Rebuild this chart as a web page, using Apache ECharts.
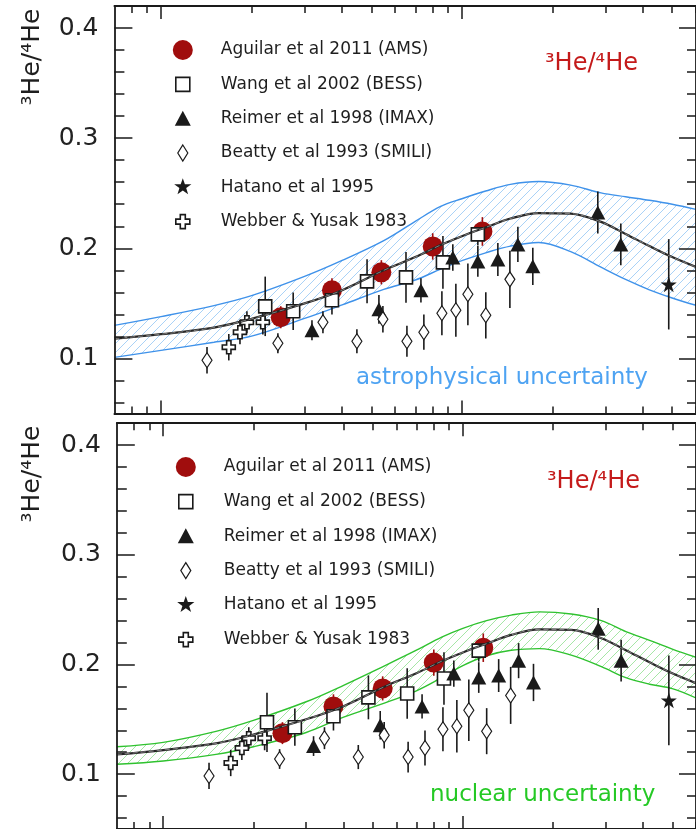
<!DOCTYPE html>
<html><head><meta charset="utf-8">
<script src="https://cdn.jsdelivr.net/npm/echarts@6/dist/echarts.min.js"></script>
<style>html,body{margin:0;padding:0;background:#fff}#c{width:696px;height:829px}</style>
</head><body><div id="c"></div>
<script>
// ---------------- data (kinetic energy per nucleon, GeV/n ; 3He/4He ratio) ----------------
const xTickMajor = [0.1, 1];
const xTickMinor = [0.08, 0.09, 0.2, 0.3, 0.4, 0.5, 0.6, 0.7, 0.8, 0.9, 2, 3, 4, 5, 6];
const yTickLabels = [0.1, 0.2, 0.3, 0.4];
const yTickMinor = [0.06, 0.08, 0.12, 0.14, 0.16, 0.18, 0.22, 0.24, 0.26, 0.28, 0.32, 0.34, 0.36, 0.38];

const seriesNames = ['Aguilar et al 2011 (AMS)', 'Wang et al 2002 (BESS)', 'Reimer et al 1998 (IMAX)',
  'Beatty et al 1993 (SMILI)', 'Hatano et al 1995', 'Webber & Yusak 1983'];

const amsE   = [0.25, 0.37, 0.54, 0.80, 1.17];
const amsR   = [0.1374, 0.1618, 0.1782, 0.2017, 0.2153];
const amsErr = [0.010, 0.011, 0.011, 0.012, 0.013];

const bessE   = [0.222, 0.275, 0.370, 0.484, 0.652, 0.865, 1.13];
const bessR   = [0.1473, 0.1428, 0.1528, 0.170, 0.1736, 0.1872, 0.2126];
const bessErr = [0.027, 0.017, 0.013, 0.020, 0.023, 0.024, 0.010];

const imaxE   = [0.3175, 0.530, 0.731, 0.933, 1.130, 1.317, 1.535, 1.721, 2.830, 3.375];
const imaxR   = [0.1256, 0.1446, 0.1618, 0.1917, 0.1881, 0.1899, 0.2035, 0.1836, 0.2325, 0.2035];
const imaxErr = [0.009, 0.013, 0.011, 0.012, 0.014, 0.015, 0.016, 0.017, 0.019, 0.019];

const smiliE   = [0.1422, 0.2446, 0.3453, 0.4478, 0.5464, 0.6567, 0.7476, 0.8582, 0.955, 1.047, 1.201, 1.444];
const smiliR   = [0.0984, 0.1138, 0.1328, 0.1156, 0.1355, 0.1156, 0.1238, 0.141, 0.1437, 0.1582, 0.1392, 0.1718];
const smiliErr = [0.012, 0.009, 0.010, 0.011, 0.012, 0.014, 0.016, 0.020, 0.024, 0.028, 0.021, 0.026];

const hatanoE   = [4.87];
const hatanoR   = [0.1673];
const hatanoErr = [0.041];

const webberE   = [0.168, 0.183, 0.193, 0.218];
const webberR   = [0.1102, 0.1238, 0.1328, 0.1328];
const webberErr = [0.012, 0.011, 0.010, 0.011];

// model curves
const modelE       = [0.07, 0.1, 0.15, 0.2, 0.3, 0.4, 0.55, 0.7, 0.85, 1.0, 1.2, 1.45, 1.8, 2.3, 2.9, 3.5, 4.2, 5.0, 6.0];
const modelCentral = [0.118, 0.122, 0.128, 0.136, 0.150, 0.162, 0.180, 0.192, 0.203, 0.211, 0.219, 0.227, 0.232, 0.2315, 0.224, 0.213, 0.202, 0.192, 0.183];
const astroUpper   = [0.130, 0.138, 0.148, 0.157, 0.1745, 0.189, 0.207, 0.2245, 0.238, 0.245, 0.252, 0.258, 0.2606, 0.2574, 0.2503, 0.2468, 0.2436, 0.240, 0.2353];
const astroLower   = [0.101, 0.1073, 0.1147, 0.1202, 0.1363, 0.1486, 0.1627, 0.1712, 0.1811, 0.1888, 0.1959, 0.202, 0.2053, 0.1969, 0.1828, 0.1717, 0.1623, 0.1549, 0.1482];
const nuclUpper    = [0.125, 0.129, 0.139, 0.149, 0.166, 0.181, 0.199, 0.213, 0.225, 0.233, 0.240, 0.245, 0.248, 0.246, 0.240, 0.230, 0.222, 0.214, 0.2065];
const nuclLower    = [0.109, 0.112, 0.118, 0.125, 0.138, 0.152, 0.165, 0.176, 0.188, 0.199, 0.208, 0.213, 0.2145, 0.2085, 0.198, 0.188, 0.182, 0.178, 0.1695];

// ---------------- styling ----------------
const FONT = 'DejaVu Sans';
const INK = '#1a1a1a';
const RED = '#a00d0d';
const STAR = 'path://M50,2L61.8,36.2L97.6,36.2L68.6,57.4L79.4,91.6L50,70.4L20.6,91.6L31.4,57.4L2.4,36.2L38.2,36.2Z';
const CROSS = 'path://M4,0H8V4H12V8H8V12H4V8H0V4H4Z';

const sets = [
  {E: amsE, R: amsR, err: amsErr, symbol: 'circle', size: 20, style: {color: RED, borderWidth: 0}, bar: RED,
   icon: 'path://M0,0M44,22M21,11A10,10,0,1,1,1,11A10,10,0,1,1,21,11Z'},
  {E: bessE, R: bessR, err: bessErr, symbol: 'rect', size: 13, style: {color: '#fff', borderColor: INK, borderWidth: 1.6}, bar: INK,
   icon: 'path://M0,0M44,22M4,4H18V18H4Z'},
  {E: imaxE, R: imaxR, err: imaxErr, symbol: 'triangle', size: [15, 14], style: {color: INK, borderWidth: 0}, bar: INK,
   icon: 'path://M0,0M44,22M11,3L19,18H3Z'},
  {E: smiliE, R: smiliR, err: smiliErr, symbol: 'diamond', size: [10, 15], style: {color: '#fff', borderColor: INK, borderWidth: 1.2}, bar: INK,
   icon: 'path://M0,0M44,22M11,3L16,11L11,19L6,11Z'},
  {E: hatanoE, R: hatanoR, err: hatanoErr, symbol: STAR, size: 16, style: {color: INK, borderWidth: 0}, bar: INK,
   icon: 'path://M0,0M44,22M11,2L13.1,8.1L19.6,8.1L14.4,11.9L16.3,18L11,14.3L5.7,18L7.6,11.9L2.4,8.1L8.9,8.1Z'},
  {E: webberE, R: webberR, err: webberErr, symbol: CROSS, size: 13, style: {color: '#fff', borderColor: INK, borderWidth: 1.6}, bar: INK,
   icon: 'path://M0,0M44,22M8.5,4H13.5V8.5H18V13.5H13.5V18H8.5V13.5H4V8.5H8.5Z'}
];

function hatch(color) {
  const s = 9;
  const c = document.createElement('canvas'); c.width = s; c.height = s;
  const g = c.getContext('2d');
  g.strokeStyle = color; g.lineWidth = 1;
  g.beginPath();
  g.moveTo(-1, s + 1); g.lineTo(s + 1, -1);
  g.moveTo(-1, 1); g.lineTo(1, -1);
  g.moveTo(s - 1, s + 1); g.lineTo(s + 1, s - 1);
  g.stroke();
  return c;
}

const panels = [
  {grid: {left: 114.4, top: 6, width: 581.8, height: 407.5}, upper: astroUpper, lower: astroLower,
   line: '#3f92ea', hatch: hatch('#a9d2f7'), note: 'astrophysical uncertainty', noteColor: '#4ea3f2',
   noteX: 356, noteY: 378, titleX: 545, titleY: 64, labelY: 57, legendLeft: 171, legendTop: 39, legendGap: 11.6},
  {grid: {left: 116.8, top: 423.2, width: 582.8, height: 409}, upper: nuclUpper, lower: nuclLower,
   line: '#2fc22f', hatch: hatch('#a6e6a6'), note: 'nuclear uncertainty', noteColor: '#25c925',
   noteX: 430, noteY: 795, titleX: 547, titleY: 482, labelY: 474, legendLeft: 174, legendTop: 456, legendGap: 11.8}
];

const xAxis = [], yAxis = [], series = [], legend = [], graphic = [];
const axisLineStyle = {color: INK, width: 1.8};
panels.forEach((p, gi) => {
  const xs = [
    {position: 'bottom', line: true, ticks: xTickMajor, len: 13},
    {position: 'bottom', line: false, ticks: xTickMinor, len: 7},
    {position: 'top', line: true, ticks: xTickMajor, len: 13},
    {position: 'top', line: false, ticks: xTickMinor, len: 7}
  ];
  xs.forEach(a => xAxis.push({
    type: 'log', logBase: 10, min: 0.07, max: 6, gridIndex: gi, position: a.position, z: 10,
    axisLine: {show: a.line, onZero: false, lineStyle: axisLineStyle},
    axisTick: {show: true, inside: true, length: a.len, customValues: a.ticks, lineStyle: {color: INK, width: 1.5}},
    axisLabel: {show: false}, splitLine: {show: false}, minorTick: {show: false}
  }));
  const ys = [
    {position: 'left', line: true, ticks: yTickLabels, len: 18, label: true},
    {position: 'left', line: false, ticks: yTickMinor, len: 10, label: false},
    {position: 'right', line: true, ticks: yTickLabels, len: 17, label: false},
    {position: 'right', line: false, ticks: yTickMinor, len: 9, label: false}
  ];
  ys.forEach(a => yAxis.push({
    type: 'value', min: 0.05, max: 0.42, gridIndex: gi, position: a.position, z: 10,
    axisLine: {show: a.line, onZero: false, lineStyle: axisLineStyle},
    axisTick: {show: true, inside: true, length: a.len, customValues: a.ticks, lineStyle: {color: INK, width: 1.5}},
    axisLabel: a.label ? {show: true, customValues: yTickLabels, fontFamily: FONT, fontSize: 25, color: '#222', margin: 16} : {show: false},
    splitLine: {show: false}
  }));
  const xi = gi * 4, yi = gi * 4;
  // uncertainty band: hatched area under the upper bound, masked in white under the lower bound
  series.push({
    type: 'line', name: 'band-upper-' + gi, xAxisIndex: xi, yAxisIndex: yi, smooth: 0.35, z: 1,
    symbol: 'none', silent: true, lineStyle: {color: p.line, width: 1.4},
    areaStyle: {color: {image: p.hatch, repeat: 'repeat'}, opacity: 1, origin: 'start'},
    data: modelE.map((e, i) => [e, p.upper[i]])
  });
  series.push({
    type: 'line', name: 'band-lower-' + gi, xAxisIndex: xi, yAxisIndex: yi, smooth: 0.35, z: 1,
    symbol: 'none', silent: true, lineStyle: {color: p.line, width: 1.4},
    areaStyle: {color: '#ffffff', opacity: 1, origin: 'start'},
    data: modelE.map((e, i) => [e, p.lower[i]])
  });
  // central model
  series.push({
    type: 'line', name: 'model-' + gi, xAxisIndex: xi, yAxisIndex: yi, smooth: 0.35, symbol: 'none', silent: true,
    lineStyle: {color: '#262626', width: 2.2}, data: modelE.map((e, i) => [e, modelCentral[i]])
  });
  series.push({
    type: 'line', name: 'model-core-' + gi, xAxisIndex: xi, yAxisIndex: yi, smooth: 0.35, symbol: 'none', silent: true,
    lineStyle: {color: 'rgba(255,255,255,0.6)', width: 0.7, type: [5, 3]}, data: modelE.map((e, i) => [e, modelCentral[i]])
  });
  // error bars
  sets.forEach((s, k) => {
    series.push({
      type: 'custom', name: 'err-' + k + '-' + gi, xAxisIndex: xi, yAxisIndex: yi, silent: true,
      encode: {x: 0, y: 1},
      data: s.E.map((e, i) => [e, s.R[i], s.err[i]]),
      renderItem: (params, api) => {
        const e = api.value(0), r = api.value(1), d = api.value(2);
        const a = api.coord([e, r - d]), b = api.coord([e, r + d]);
        return {type: 'line', shape: {x1: a[0], y1: a[1], x2: b[0], y2: b[1]}, style: {stroke: s.bar, lineWidth: 1.6}};
      }
    });
  });
  // markers
  sets.forEach((s, k) => {
    series.push({
      type: 'scatter', name: seriesNames[k], xAxisIndex: xi, yAxisIndex: yi, symbol: s.symbol, symbolSize: s.size,
      itemStyle: Object.assign({opacity: 1}, s.style), silent: true,
      data: s.E.map((e, i) => [e, s.R[i]])
    });
  });
  legend.push({
    left: p.legendLeft, top: p.legendTop, orient: 'vertical', padding: 0, itemWidth: 44, itemHeight: 22, itemGap: p.legendGap,
    selectedMode: false, textStyle: {fontFamily: FONT, fontSize: 17, color: '#1e1e1e', lineHeight: 22},
    data: seriesNames.map((n, k) => ({name: n, icon: sets[k].icon, itemStyle: sets[k].style}))
  });
  graphic.push({type: 'text', x: 32, y: p.labelY, rotation: Math.PI / 2, z: 20,
    style: {text: '³He/⁴He', fontFamily: FONT, fontSize: 25, fill: '#1e1e1e', align: 'center', verticalAlign: 'middle'}});
  graphic.push({type: 'text', x: p.titleX, y: p.titleY, z: 20,
    style: {text: '³He/⁴He', fontFamily: FONT, fontSize: 24, fill: '#c41a1a', align: 'left', verticalAlign: 'middle'}});
  graphic.push({type: 'text', x: p.noteX, y: p.noteY, z: 20,
    style: {text: p.note, fontFamily: FONT, fontSize: 23, fill: p.noteColor, align: 'left', verticalAlign: 'middle'}});
});

const chart = echarts.init(document.getElementById('c'), null, {renderer: 'canvas'});
chart.setOption({
  animation: false,
  backgroundColor: '#fff',
  grid: panels.map(p => p.grid),
  xAxis, yAxis, series, legend, graphic
});
</script>
</body></html>
